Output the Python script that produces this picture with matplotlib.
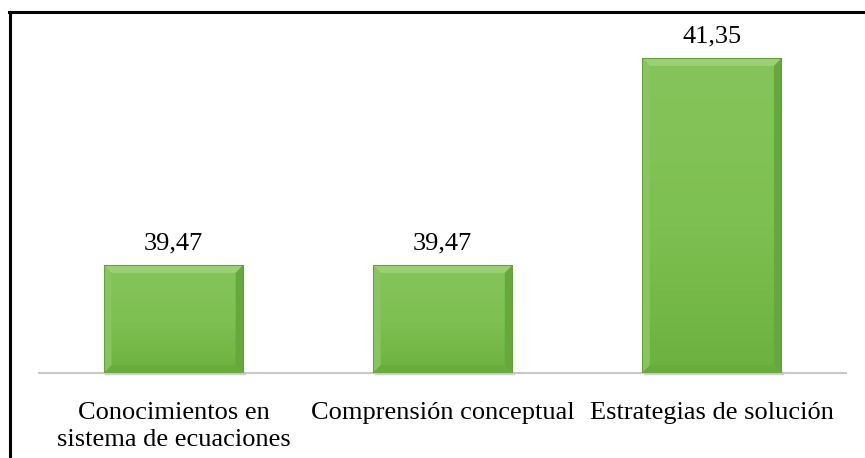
import numpy as np
import matplotlib.pyplot as plt
from matplotlib.patches import Polygon

categorias = ["Conocimientos en\nsistema de ecuaciones", "Comprensión conceptual", "Estrategias de solución"]
valores = [39.47, 39.47, 41.35]
etiquetas = ["39,47", "39,47", "41,35"]

plt.rcParams['font.family'] = ['Liberation Serif', 'DejaVu Serif']

fig = plt.figure(figsize=(8.65, 4.58), dpi=100)
W, H = 865, 458
ax = fig.add_axes([39 / W, (H - 373) / H, (846.5 - 39) / W, (373 - 12) / H])

x = np.arange(len(valores))
ymin = 38.49
barras = ax.bar(x, np.array(valores) - ymin, bottom=ymin, width=0.517,
                color='#7dbe52', edgecolor='none', zorder=2)
ax.set_xlim(-0.5, 2.5)
ax.set_ylim(ymin, 41.77)

# degradado vertical y biselado en cada barra
grad = np.linspace(0, 1, 256).reshape(-1, 1)
cmap = plt.matplotlib.colors.LinearSegmentedColormap.from_list(
    'verde', ['#6cb23f', '#7fc052', '#86c45b'])
bx = 0.028  # ancho del bisel en x
by = 0.07   # alto del bisel en y
for b in barras:
    x0, y0 = b.get_x(), b.get_y()
    x1, y1 = x0 + b.get_width(), y0 + b.get_height()
    im = ax.imshow(grad, extent=(x0, x1, y0, y1), aspect='auto', cmap=cmap,
                   origin='lower', zorder=2)
    im.set_clip_path(b)
    # sombra bajo la barra
    ax.add_patch(Polygon([(x0 + 0.005, y0), (x1 + 0.005, y0), (x1 + 0.005, y0 - 0.012),
                          (x0 + 0.005, y0 - 0.012)], closed=True, color='#d0d0d0',
                         zorder=1, clip_on=False))
    # bisel: arriba claro, izquierda claro, derecha oscuro, abajo oscuro
    ax.add_patch(Polygon([(x0, y1), (x1, y1), (x1 - bx, y1 - by), (x0 + bx, y1 - by)],
                         closed=True, color='#9ccf76', zorder=3, lw=0))
    ax.add_patch(Polygon([(x0, y0), (x0, y1), (x0 + bx, y1 - by), (x0 + bx, y0 + by)],
                         closed=True, color='#88c460', zorder=3, lw=0))
    ax.add_patch(Polygon([(x1, y0), (x1, y1), (x1 - bx, y1 - by), (x1 - bx, y0 + by)],
                         closed=True, color='#66a83c', zorder=3, lw=0))
    ax.add_patch(Polygon([(x0, y0), (x1, y0), (x1 - bx, y0 + by), (x0 + bx, y0 + by)],
                         closed=True, color='#68ac3c', zorder=3, lw=0))
    ax.plot([x0, x1, x1, x0, x0], [y0, y0, y1, y1, y0], color='#64a03c', lw=0.8, zorder=4)

for b, txt in zip(barras, etiquetas):
    ax.text(b.get_x() + b.get_width() / 2, b.get_y() + b.get_height() + 0.1, txt,
            ha='center', va='bottom', fontsize=19, color='black')

for s in ['top', 'right', 'left']:
    ax.spines[s].set_visible(False)
ax.spines['bottom'].set_color('#c8c8c8')
ax.spines['bottom'].set_linewidth(1.5)
ax.set_yticks([])
ax.set_xticks(x)
ax.set_xticklabels(categorias, fontsize=19, linespacing=1.3)
ax.tick_params(axis='x', length=0, pad=21)

# marco exterior (solo izquierda y arriba)
fig.add_artist(plt.Line2D([10 / W, 10 / W], [0, 1 - 12 / H], color='black', lw=2.2))
fig.add_artist(plt.Line2D([9 / W, 1], [1 - 12 / H, 1 - 12 / H], color='black', lw=2.2))

fig.savefig('out.png', dpi=100)
